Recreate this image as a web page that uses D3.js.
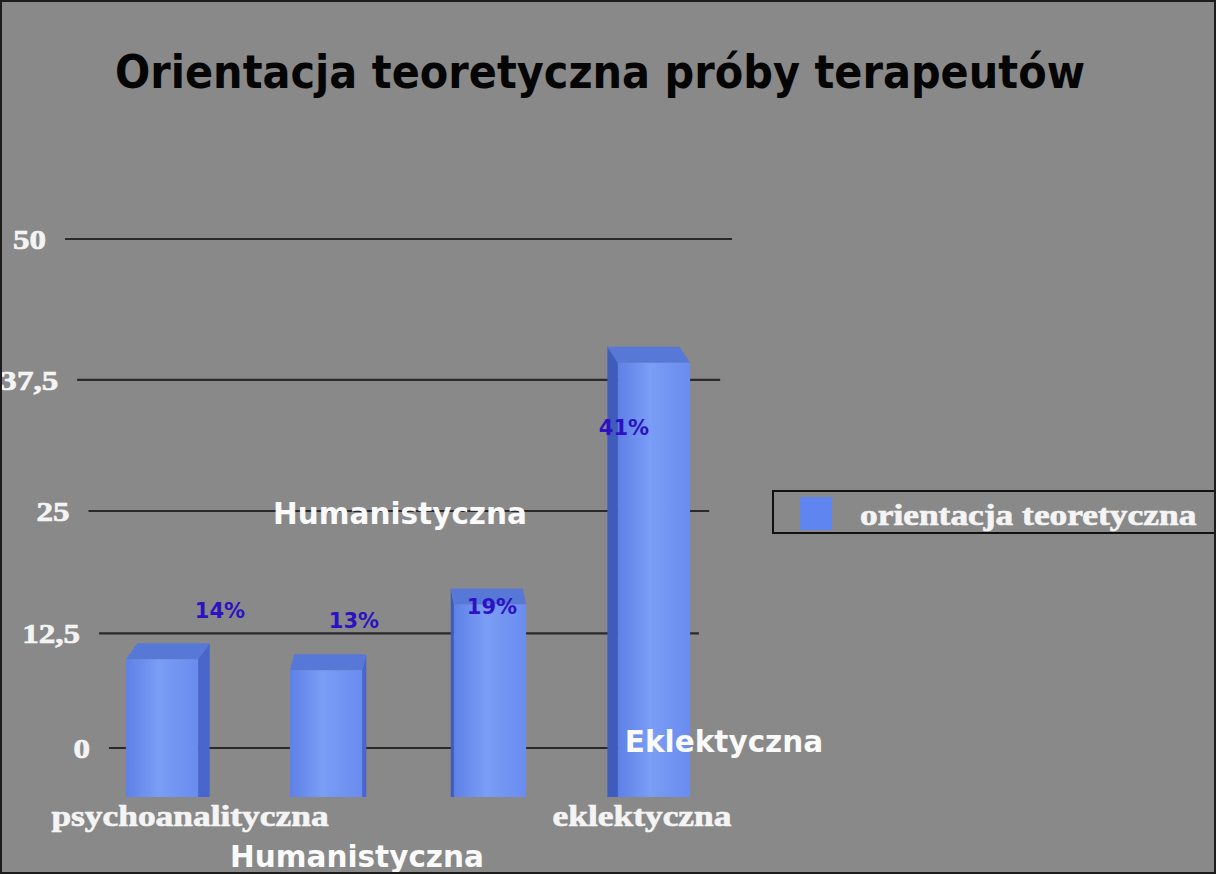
<!DOCTYPE html>
<html><head><meta charset="utf-8">
<script src="https://cdn.jsdelivr.net/npm/d3@7"></script>
<style>html,body{margin:0;padding:0;background:#898989;}svg{display:block;}</style>
</head><body>
<svg id="chart" width="1216" height="874"></svg>
<script>
// ---- data ----
const categories = ["psychoanalityczna", "humanistyczna", "behawioralna", "eklektyczna"];
const values = [14, 13, 19, 41];
const valueLabels = ["14%", "13%", "19%", "41%"];
const xTickLabels = ["psychoanalityczna", "", "", "eklektyczna"];
const yTicks = [0, 12.5, 25, 37.5, 50];
const yTickLabels = ["0", "12,5", "25", "37,5", "50"];
const seriesName = "orientacja teoretyczna";
const title = "Orientacja teoretyczna próby terapeutów";
const overlayLabels = ["Humanistyczna", "Humanistyczna", "Eklektyczna"];

// ---- layout / style ----
const W = 1216, H = 874;
const svg = d3.select("#chart");
const bg = "#898989";
svg.append("rect").attr("width", W).attr("height", H).attr("fill", bg);

// back wall (perspective) scale
const wallT = d3.scaleLinear().domain([0, 50]).range([0, 1]);
const k = -0.1287;
const wallY0 = 748, wallY1 = 239;
const wallY = v => { const t = wallT(v); return wallY0 + (wallY1 - wallY0) * (t * (1 + k) / (1 + k * t)); };
const leftEdge = y => 65 + (y - 239) * 0.0864;
const rightEdge = y => 732 - (y - 239) * 0.0838;

// front plane scale for bars
const yFront = d3.scaleLinear().domain([0, 50]).range([797, 248]);
const x = d3.scaleBand().domain(categories).range([80, 736]).paddingInner(0.56).paddingOuter(0.28);

const stretch = 1.18;
const serif = "Liberation Serif";
const sans = "DejaVu Sans";

// gridlines
const grid = svg.append("g");
yTicks.forEach((t, i) => {
  const y = wallY(t);
  grid.append("line").attr("x1", leftEdge(y)).attr("x2", rightEdge(y))
    .attr("y1", y).attr("y2", y).attr("stroke", "#2a2a2a").attr("stroke-width", 2.2);
  grid.append("g").attr("transform", `translate(${leftEdge(y) - 19},${y + 10}) scale(${stretch},1)`)
    .append("text").attr("text-anchor", "end").attr("font-family", serif).attr("font-weight", 700)
    .attr("font-size", 28).attr("fill", "#f4f4f4").attr("stroke", "#f4f4f4").attr("stroke-width", 0.7)
    .text(yTickLabels[i]);
});

// defs for bar gradient
const defs = svg.append("defs");
const grad = defs.append("linearGradient").attr("id", "front").attr("x1", 0).attr("x2", 1).attr("y1", 0).attr("y2", 0);
grad.append("stop").attr("offset", 0).attr("stop-color", "#5f80e6");
grad.append("stop").attr("offset", 0.45).attr("stop-color", "#7a9df6");
grad.append("stop").attr("offset", 1).attr("stop-color", "#6a8cef");

const vpX = 420;
const depthY = 16;
const bars = svg.append("g");
categories.forEach((c, i) => {
  const x0 = x(c), x1 = x(c) + x.bandwidth();
  const cx = (x0 + x1) / 2;
  const yBack = yFront(values[i]), yT = yBack + depthY, yB = yFront(0);
  const dx = (vpX - cx) * 0.045;
  // side face
  if (dx > 0) {
    bars.append("path").attr("d", `M${x1},${yT} L${x1 + dx},${yBack} L${x1 + dx},${yB} L${x1},${yB} Z`).attr("fill", "#4966cc");
  } else {
    bars.append("path").attr("d", `M${x0},${yT} L${x0 + dx},${yBack} L${x0 + dx},${yB} L${x0},${yB} Z`).attr("fill", "#3f5cbc");
  }
  // top face
  bars.append("path").attr("d", `M${x0},${yT} L${x0 + dx},${yBack} L${x1 + dx},${yBack} L${x1},${yT} Z`).attr("fill", "#5878d8");
  // front face
  bars.append("rect").attr("x", x0).attr("y", yT).attr("width", x.bandwidth()).attr("height", yB - yT).attr("fill", "url(#front)");
});

// value labels (offsets relative to bar top/centre)
const labelDx = [58, 28, 2, -30];
const labelDy = [-25, -26, 26, 88];
categories.forEach((c, i) => {
  const cx = x(c) + x.bandwidth() / 2;
  svg.append("text").attr("x", cx + labelDx[i]).attr("y", yFront(values[i]) + labelDy[i])
    .attr("text-anchor", "middle").attr("font-family", sans).attr("font-weight", "bold")
    .attr("font-size", 21).attr("fill", "#2c12c2").text(valueLabels[i]);
});

// x labels
const xLabelShift = [28, 0, 0, -12];
categories.forEach((c, i) => {
  if (!xTickLabels[i]) return;
  const cx = x(c) + x.bandwidth() / 2 + xLabelShift[i];
  svg.append("g").attr("transform", `translate(${cx},826) scale(${stretch},1)`)
    .append("text").attr("text-anchor", "middle").attr("font-family", serif).attr("font-weight", 700)
    .attr("font-size", 30).attr("fill", "#f4f4f4").attr("stroke", "#f4f4f4").attr("stroke-width", 0.7)
    .text(xTickLabels[i]);
});

// overlay labels
const overlayPos = [[400, 524], [357, 867], [724, 752]];
overlayLabels.forEach((t, i) => {
  svg.append("text").attr("x", overlayPos[i][0]).attr("y", overlayPos[i][1]).attr("text-anchor", "middle")
    .attr("font-family", sans).attr("font-weight", "bold").attr("font-size", 29.5)
    .attr("fill", "#fafafa").text(t);
});

// legend
const lg = svg.append("g");
lg.append("rect").attr("x", 773).attr("y", 491).attr("width", 460).attr("height", 42)
  .attr("fill", "none").attr("stroke", "#111").attr("stroke-width", 2);
lg.append("rect").attr("x", 800).attr("y", 497).attr("width", 32).attr("height", 33).attr("fill", "#5f86f0");
lg.append("g").attr("transform", `translate(860,525) scale(${stretch},1)`)
  .append("text").attr("font-family", serif).attr("font-weight", 700).attr("font-size", 30)
  .attr("fill", "#f4f4f4").attr("stroke", "#f4f4f4").attr("stroke-width", 0.7).text(seriesName);

// title
svg.append("text").attr("x", 600).attr("y", 88).attr("text-anchor", "middle")
  .attr("font-family", sans).attr("font-weight", "bold").attr("font-size", 47)
  .attr("textLength", 970).attr("lengthAdjust", "spacingAndGlyphs")
  .attr("fill", "#050505").text(title);

// frame
svg.append("rect").attr("x", 1).attr("y", 1).attr("width", W - 2).attr("height", H - 2)
  .attr("fill", "none").attr("stroke", "#1c1c1c").attr("stroke-width", 2);
</script>
</body></html>
